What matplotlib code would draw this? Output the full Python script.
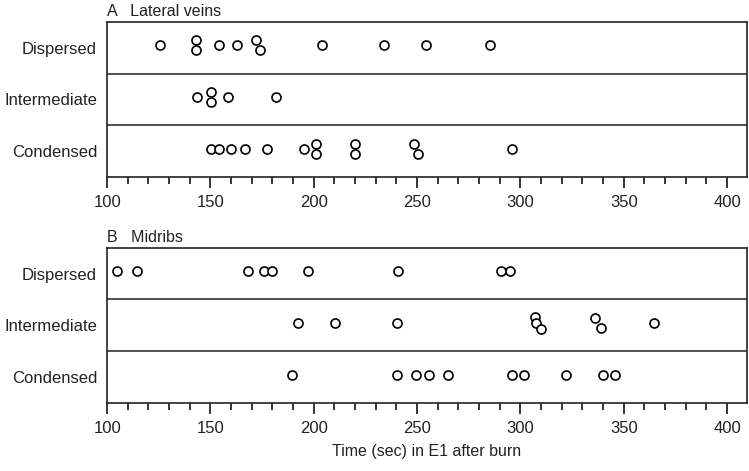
import numpy as np
import matplotlib.pyplot as plt
from matplotlib.ticker import MultipleLocator

plt.rcParams['font.family'] = ['Liberation Sans', 'DejaVu Sans']

# categories, top row first
groups = ["Dispersed", "Intermediate", "Condensed"]

# A - lateral veins (sec in E1 after burn)
lat_dispersed = [125.5, 143.2, 143.2, 154.0, 162.7, 172.2, 173.8, 204.2, 234.1, 254.4, 285.3]
lat_intermediate = [143.3, 150.4, 150.4, 158.3, 181.5]
lat_condensed = [150.4, 154.1, 159.9, 166.7, 177.2, 195.4, 201.2, 201.2, 220.1, 220.1,
                 248.3, 250.6, 296.1]

# B - midribs
mid_dispersed = [104.7, 114.5, 168.1, 175.7, 179.9, 197.1, 240.9, 290.8, 295.0]
mid_intermediate = [192.3, 210.3, 240.3, 306.8, 307.7, 309.8, 336.1, 338.8, 364.7]
mid_condensed = [189.5, 240.3, 249.5, 255.9, 265.1, 295.8, 301.8, 321.9, 339.9, 345.7]

panels = [
    ("A   Lateral veins", [lat_dispersed, lat_intermediate, lat_condensed]),
    ("B   Midribs", [mid_dispersed, mid_intermediate, mid_condensed]),
]


def swarm_offsets(vals, gap=3.0):
    # stack points that would overlap, spread symmetric around the row centre
    vals = np.sort(np.asarray(vals, dtype=float))
    offs = np.zeros(len(vals))
    start = 0
    for i in range(1, len(vals) + 1):
        if i == len(vals) or vals[i] - vals[i - 1] >= gap:
            n = i - start
            if n > 1:
                h = 0.093 + 0.025 * (n - 2)
                offs[start:i] = np.linspace(h, -h, n)
            start = i
    return vals, offs


fig = plt.figure(figsize=(7.49, 4.71), dpi=100)
boxes = [[0.1425, 0.6236, 0.8545, 0.3304], [0.1425, 0.1444, 0.8545, 0.3297]]

for (title, data), box in zip(panels, boxes):
    ax = fig.add_axes(box)
    n = len(groups)
    for k, vals in enumerate(data):
        ypos = n - 1 - k
        x, off = swarm_offsets(vals)
        ax.plot(x, ypos + 0.05 + off, 'o', ms=6.5, mfc='white', mec='black',
                mew=1.2, ls='none', zorder=3)
    for b in np.arange(0.5, n - 1, 1.0):
        ax.axhline(b, color='#333333', lw=1.2, zorder=2)

    ax.set_xlim(99.8, 409.5)
    ax.set_ylim(-0.5, n - 0.5)
    ax.set_yticks(range(n))
    ax.set_yticklabels(groups[::-1])
    ax.xaxis.set_major_locator(MultipleLocator(50))
    ax.xaxis.set_minor_locator(MultipleLocator(10))
    ax.tick_params(axis='y', length=0, pad=7, labelsize=12, labelcolor='#222222')
    ax.tick_params(axis='x', which='major', length=8, width=1.1, pad=5,
                   labelsize=12, labelcolor='#222222', direction='out')
    ax.tick_params(axis='x', which='minor', length=5, width=1.1, direction='out')
    for s in ax.spines.values():
        s.set_linewidth(1.2)
        s.set_color('#222222')
    ax.set_title(title, loc='left', fontsize=11.5, pad=4, color='#222222')

ax.set_xlabel("Time (sec) in E1 after burn", fontsize=11.5, color='#222222', labelpad=6)

plt.savefig("out.png", dpi=100)
